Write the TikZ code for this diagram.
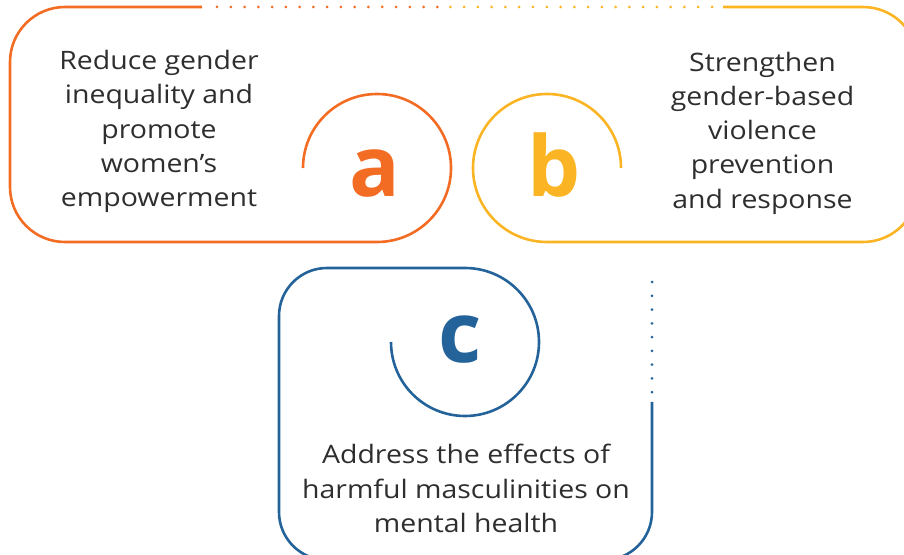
\documentclass[tikz,border=0pt]{standalone}
\usepackage{fontspec}
\setmainfont{Open Sans}
\newfontfamily\bodyfont[FakeStretch=1.12]{Open Sans}
\definecolor{orng}{HTML}{F36C24}
\definecolor{yel}{HTML}{FBB524}
\definecolor{blu}{HTML}{24639A}
\definecolor{txt}{HTML}{2E2E2E}
\begin{document}
\begin{tikzpicture}[x=1pt,y=1pt,
  outl/.style={line width=2.6pt},
  dots/.style={line width=3pt, line cap=round, dash pattern=on 0pt off 13.77pt},
  body/.style={text=txt, align=center, inner sep=0pt, font=\bodyfont\fontsize{25.4}{34.25}\selectfont},
  letter/.style={inner sep=0pt, anchor=base, font=\fontsize{84}{84}\selectfont\bfseries}]
\useasboundingbox (0,0) rectangle (904,554);
% orange shape
\draw[outl, orng] (303,386) arc[start angle=180, end angle=-90, radius=74pt]
  [rounded corners=55pt] -- (10,312) -- (10,547) -- (202,547);
\draw[dots, orng] (217,547) -- (442,547);
% yellow shape
\draw[outl, yel] (621,386) arc[start angle=0, end angle=270, radius=74pt]
  [rounded corners=55pt] -- (918,312) -- (918,547) -- (723,547);
\draw[dots, yel] (712,547) -- (448,547);
% blue shape
\draw[outl, blu] (391,212) arc[start angle=180, end angle=450, radius=74pt]
  [rounded corners=48pt] -- (279,286) -- (279,-6) -- (652,-6) -- (652,152);
\draw[dots, blu] (652,272) -- (652,160);
% texts
\node[body] (ta) at (159,422.5) {Reduce gender\\inequality and\\promote\\women’s\\empowerment};
\node[body] (tb) at (762.5,421) {Strengthen\\gender-based\\violence\\prevention\\and response};
\node[body] (tc) at (466,65.5) {Address the effects of\\harmful masculinities on\\mental health};
\node[letter, text=orng] (la) at (375,357) {a};
\node[letter, text=yel] (lb) at (554,357) {b};
\node[letter, text=blu] (lc) at (460,191) {c};
\end{tikzpicture}
\end{document}
